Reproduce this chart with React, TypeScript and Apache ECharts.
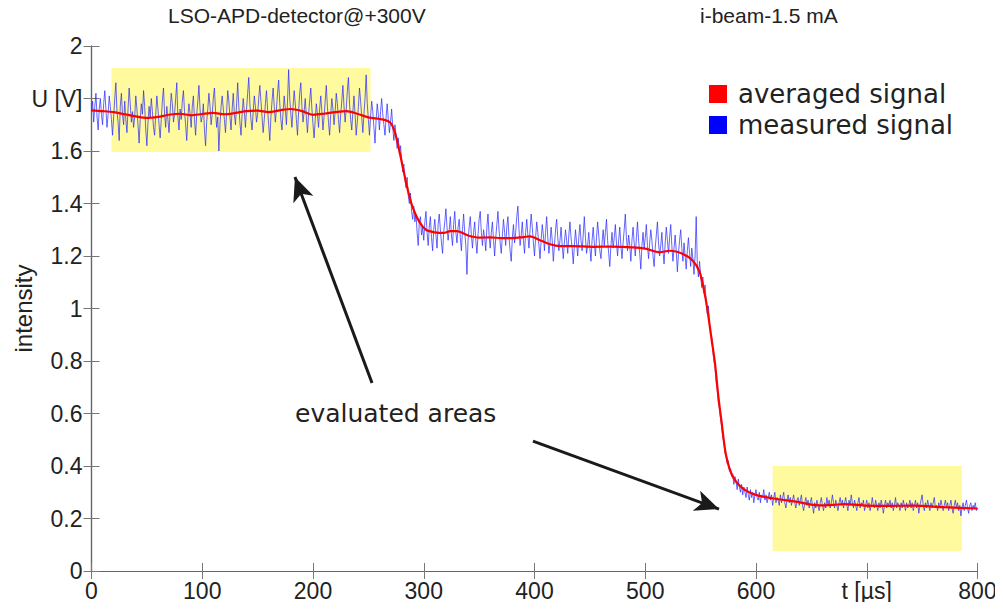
import React, { useEffect, useRef } from "react";
import * as echarts from "echarts";

const FONT = "'Liberation Sans', Arial, Helvetica, sans-serif";
const WIDE_FONT = "'DejaVu Sans', 'Liberation Sans', sans-serif";

const xTicks = [0, 100, 200, 300, 400, 500, 600, 700, 800];
const yTicks = [0, 0.2, 0.4, 0.6, 0.8, 1, 1.2, 1.4, 1.6, 1.8, 2];

// averaged signal: [t µs, U V]
const averagedT = [0, 10, 20, 30, 40, 50, 60, 70, 80, 90, 100, 110, 120, 130, 140, 150, 160, 170, 180, 190, 200, 210, 220, 230, 240, 250, 260, 265, 270, 274, 278, 283, 286, 290, 296, 302, 310, 318, 324, 330, 340, 350, 360, 370, 380, 390, 396, 405, 414, 423, 435, 453, 470, 489, 500, 513, 522, 534, 543, 549, 553, 556, 560, 563, 566, 569, 573, 579, 588, 600, 615, 636, 657, 670, 680, 700, 720, 742, 770, 800];
const averagedU = [1.755, 1.752, 1.748, 1.74, 1.732, 1.726, 1.73, 1.738, 1.742, 1.736, 1.741, 1.745, 1.74, 1.745, 1.752, 1.754, 1.748, 1.755, 1.76, 1.752, 1.738, 1.742, 1.748, 1.752, 1.742, 1.728, 1.722, 1.718, 1.707, 1.67, 1.6, 1.5, 1.445, 1.385, 1.33, 1.3, 1.29, 1.288, 1.295, 1.295, 1.278, 1.27, 1.271, 1.268, 1.268, 1.272, 1.275, 1.26, 1.245, 1.238, 1.238, 1.235, 1.236, 1.233, 1.228, 1.214, 1.22, 1.208, 1.182, 1.14, 1.07, 1.0, 0.88, 0.79, 0.665, 0.565, 0.44, 0.36, 0.315, 0.29, 0.277, 0.264, 0.25, 0.252, 0.255, 0.249, 0.248, 0.249, 0.243, 0.238];

// measured signal, one sample every 1 µs from 0 to 800 µs
const measuredStep = 1;
const measuredU = [
  1.75, 1.79, 1.71, 1.77, 1.82, 1.73, 1.68, 1.76, 1.80, 1.74,
  1.70, 1.78, 1.83, 1.76, 1.69, 1.74, 1.81, 1.77, 1.72, 1.66,
  1.73, 1.80, 1.86, 1.75, 1.71, 1.64, 1.77, 1.82, 1.74, 1.70,
  1.79, 1.72, 1.67, 1.76, 1.84, 1.78, 1.71, 1.75, 1.69, 1.73,
  1.81, 1.76, 1.70, 1.63, 1.72, 1.78, 1.74, 1.83, 1.77, 1.68,
  1.62, 1.71, 1.77, 1.73, 1.80, 1.75, 1.69, 1.66, 1.74, 1.81,
  1.76, 1.70, 1.65, 1.72, 1.79, 1.84, 1.74, 1.69, 1.77, 1.72,
  1.67, 1.75, 1.82, 1.78, 1.71, 1.74, 1.80, 1.86, 1.73, 1.68,
  1.76, 1.72, 1.79, 1.83, 1.75, 1.70, 1.64, 1.73, 1.78, 1.74,
  1.69, 1.77, 1.81, 1.72, 1.66, 1.74, 1.79, 1.85, 1.76, 1.71,
  1.73, 1.78, 1.68, 1.62, 1.71, 1.76, 1.82, 1.77, 1.70, 1.74,
  1.80, 1.84, 1.75, 1.69, 1.73, 1.60, 1.70, 1.77, 1.81, 1.76,
  1.72, 1.67, 1.75, 1.83, 1.79, 1.73, 1.68, 1.76, 1.82, 1.74,
  1.70, 1.78, 1.86, 1.77, 1.71, 1.66, 1.74, 1.80, 1.75, 1.69,
  1.76, 1.82, 1.88, 1.78, 1.72, 1.68, 1.75, 1.81, 1.77, 1.71,
  1.74, 1.80, 1.85, 1.79, 1.73, 1.67, 1.72, 1.78, 1.83, 1.76,
  1.70, 1.64, 1.73, 1.79, 1.84, 1.77, 1.71, 1.76, 1.82, 1.87,
  1.78, 1.72, 1.68, 1.75, 1.81, 1.76, 1.70, 1.79, 1.91, 1.80,
  1.74, 1.69, 1.77, 1.83, 1.78, 1.72, 1.66, 1.75, 1.82, 1.86,
  1.77, 1.71, 1.75, 1.80, 1.73, 1.67, 1.74, 1.79, 1.84, 1.76,
  1.70, 1.65, 1.72, 1.78, 1.74, 1.69, 1.76, 1.81, 1.75, 1.68,
  1.73, 1.79, 1.85, 1.77, 1.71, 1.66, 1.74, 1.80, 1.76, 1.70,
  1.75, 1.82, 1.78, 1.72, 1.67, 1.74, 1.79, 1.85, 1.77, 1.71,
  1.76, 1.83, 1.88, 1.78, 1.72, 1.68, 1.75, 1.81, 1.74, 1.66,
  1.71, 1.77, 1.84, 1.79, 1.73, 1.67, 1.74, 1.80, 1.89, 1.78,
  1.72, 1.66, 1.73, 1.79, 1.75, 1.69, 1.63, 1.72, 1.78, 1.74,
  1.68, 1.75, 1.80, 1.74, 1.70, 1.66, 1.73, 1.78, 1.72, 1.67,
  1.71, 1.76, 1.69, 1.64, 1.70, 1.66, 1.61, 1.65, 1.59, 1.62,
  1.57, 1.52, 1.55, 1.49, 1.46, 1.50, 1.43, 1.40, 1.44, 1.37,
  1.34, 1.39, 1.33, 1.36, 1.29, 1.24, 1.33, 1.35, 1.28, 1.31,
  1.26, 1.33, 1.37, 1.29, 1.24, 1.31, 1.35, 1.27, 1.22, 1.30,
  1.34, 1.28, 1.23, 1.32, 1.36, 1.30, 1.25, 1.21, 1.29, 1.33,
  1.38, 1.31, 1.26, 1.30, 1.35, 1.28, 1.24, 1.32, 1.37, 1.29,
  1.25, 1.31, 1.34, 1.27, 1.22, 1.30, 1.36, 1.29, 1.24, 1.13,
  1.26, 1.31, 1.35, 1.28, 1.23, 1.29, 1.33, 1.26, 1.21, 1.28,
  1.34, 1.37, 1.29, 1.24, 1.30, 1.27, 1.22, 1.31, 1.36, 1.28,
  1.23, 1.29, 1.33, 1.26, 1.20, 1.27, 1.32, 1.37, 1.30, 1.25,
  1.21, 1.28, 1.34, 1.29, 1.24, 1.31, 1.35, 1.27, 1.22, 1.18,
  1.27, 1.32, 1.25, 1.29, 1.35, 1.39, 1.30, 1.24, 1.28, 1.33,
  1.26, 1.21, 1.29, 1.34, 1.28, 1.23, 1.30, 1.36, 1.31, 1.25,
  1.20, 1.27, 1.33, 1.29, 1.24, 1.19, 1.26, 1.32, 1.28, 1.22,
  1.29, 1.35, 1.27, 1.21, 1.25, 1.31, 1.26, 1.18, 1.24, 1.30,
  1.34, 1.27, 1.22, 1.26, 1.31, 1.24, 1.19, 1.25, 1.30, 1.26,
  1.21, 1.28, 1.33, 1.27, 1.23, 1.17, 1.24, 1.30, 1.25, 1.20,
  1.27, 1.32, 1.26, 1.22, 1.28, 1.35, 1.27, 1.21, 1.24, 1.29,
  1.23, 1.18, 1.26, 1.31, 1.25, 1.20, 1.27, 1.33, 1.28, 1.22,
  1.19, 1.25, 1.30, 1.24, 1.29, 1.34, 1.26, 1.21, 1.16, 1.24,
  1.29, 1.23, 1.27, 1.32, 1.25, 1.20, 1.26, 1.31, 1.24, 1.19,
  1.25, 1.30, 1.36, 1.27, 1.22, 1.28, 1.24, 1.18, 1.26, 1.31,
  1.25, 1.20, 1.27, 1.33, 1.26, 1.21, 1.15, 1.24, 1.29, 1.23,
  1.27, 1.32, 1.24, 1.19, 1.25, 1.30, 1.26, 1.20, 1.16, 1.23,
  1.28, 1.33, 1.25, 1.20, 1.24, 1.29, 1.22, 1.17, 1.25, 1.31,
  1.26, 1.21, 1.27, 1.32, 1.24, 1.18, 1.23, 1.28, 1.22, 1.14,
  1.21, 1.26, 1.30, 1.23, 1.18, 1.25, 1.20, 1.15, 1.22, 1.27,
  1.21, 1.16, 1.23, 1.19, 1.13, 1.20, 1.35, 1.17, 1.12, 1.18,
  1.13, 1.08, 1.12, 1.06, 1.09, 1.03, 0.98, 1.01, 0.94, 0.90,
  0.89, 0.84, 0.80, 0.78, 0.72, 0.69, 0.64, 0.62, 0.58, 0.55,
  0.51, 0.49, 0.45, 0.44, 0.41, 0.42, 0.38, 0.39, 0.36, 0.37,
  0.33, 0.36, 0.34, 0.31, 0.35, 0.32, 0.30, 0.33, 0.29, 0.32,
  0.30, 0.28, 0.32, 0.29, 0.27, 0.31, 0.28, 0.30, 0.26, 0.29,
  0.31, 0.28, 0.27, 0.30, 0.26, 0.29, 0.28, 0.31, 0.27, 0.29,
  0.26, 0.28, 0.30, 0.27, 0.29, 0.25, 0.28, 0.30, 0.26, 0.28,
  0.27, 0.25, 0.29, 0.26, 0.28, 0.30, 0.26, 0.24, 0.27, 0.29,
  0.26, 0.28, 0.25, 0.27, 0.29, 0.26, 0.24, 0.27, 0.28, 0.25,
  0.27, 0.29, 0.25, 0.23, 0.26, 0.28, 0.25, 0.27, 0.24, 0.26,
  0.28, 0.25, 0.22, 0.26, 0.24, 0.27, 0.25, 0.23, 0.26, 0.28,
  0.25, 0.23, 0.26, 0.24, 0.28, 0.25, 0.27, 0.24, 0.26, 0.29,
  0.26, 0.24, 0.27, 0.25, 0.23, 0.26, 0.28, 0.25, 0.27, 0.24,
  0.26, 0.28, 0.25, 0.23, 0.27, 0.25, 0.29, 0.26, 0.24, 0.27,
  0.25, 0.23, 0.26, 0.28, 0.24, 0.26, 0.25, 0.27, 0.23, 0.25,
  0.27, 0.24, 0.26, 0.23, 0.25, 0.28, 0.25, 0.24, 0.27, 0.25,
  0.23, 0.26, 0.24, 0.27, 0.25, 0.22, 0.25, 0.27, 0.24, 0.26,
  0.25, 0.27, 0.24, 0.26, 0.23, 0.25, 0.28, 0.24, 0.26, 0.25,
  0.23, 0.26, 0.24, 0.27, 0.25, 0.23, 0.26, 0.24, 0.25, 0.27,
  0.24, 0.26, 0.23, 0.25, 0.27, 0.24, 0.26, 0.22, 0.25, 0.27,
  0.29, 0.25, 0.23, 0.26, 0.24, 0.27, 0.25, 0.23, 0.26, 0.24,
  0.26, 0.28, 0.24, 0.25, 0.23, 0.26, 0.24, 0.27, 0.25, 0.23,
  0.25, 0.27, 0.24, 0.26, 0.23, 0.25, 0.27, 0.24, 0.22, 0.25,
  0.27, 0.24, 0.26, 0.23, 0.25, 0.21, 0.24, 0.26, 0.23, 0.25,
  0.27, 0.24, 0.22, 0.25, 0.26, 0.23, 0.25, 0.24, 0.26, 0.23,
  0.24,
];

// evaluated areas: [tStart, tEnd, uLow, uHigh]
const areas = [
  [18, 252, 1.596, 1.916],
  [615, 786, 0.076, 0.4],
];

// arrows: [tFrom, uFrom, tTo, uTo]
const arrows = [
  [253.3, 0.716, 183.7, 1.501],
  [398.6, 0.495, 566.6, 0.236],
];

const seriesNames = ["averaged signal", "measured signal"];
const titleLeft = "LSO-APD-detector@+300V";
const titleRight = "i-beam-1.5 mA";
const annotation = "evaluated areas";

export default function App() {
  const ref = useRef<HTMLDivElement>(null);
  useEffect(() => {
    if (!ref.current) return;
    const chart = echarts.init(ref.current, null, { renderer: "svg" });
    const axisLine = { show: true, lineStyle: { color: "#666", width: 1.2 } };
    const tickIn = { show: true, inside: true, length: 8, lineStyle: { color: "#777", width: 1 } };
    const option = {
      animation: false,
      backgroundColor: "#fff",
      textStyle: { fontFamily: FONT },
      grid: { left: 91.5, right: 25.5, top: 46, bottom: 39, containLabel: false, outerBoundsMode: "none" },
      legend: {
        data: seriesNames,
        orient: "vertical",
        left: 704,
        top: 76,
        icon: "rect",
        itemWidth: 18,
        itemHeight: 18,
        itemGap: 5,
        textStyle: { fontFamily: WIDE_FONT, fontSize: 26, color: "#222", padding: [0, 0, 0, 6] },
      },
      xAxis: [
        {
          type: "value",
          min: 0,
          max: 800,
          interval: 100,
          axisLine,
          axisTick: tickIn,
          splitLine: { show: false },
          axisLabel: {
            margin: 8,
            fontSize: 23,
            color: "#222",
            fontFamily: FONT,
            formatter: (v: number) => (v === 700 ? "t [µs]" : String(v)),
          },
        },
        {
          type: "value",
          position: "top",
          min: 0,
          max: 800,
          interval: 100,
          axisLine,
          axisTick: tickIn,
          axisLabel: { show: false },
          splitLine: { show: false },
        },
      ],
      yAxis: [
        {
          type: "value",
          min: 0,
          max: 2,
          interval: 0.2,
          axisLine,
          axisTick: tickIn,
          splitLine: { show: false },
          name: "intensity",
          nameLocation: "middle",
          nameGap: 56,
          nameMoveOverlap: false,
          nameRotate: 90,
          nameTextStyle: { fontSize: 24, color: "#222", fontFamily: FONT },
          axisLabel: {
            margin: 9,
            fontSize: 23,
            color: "#222",
            fontFamily: FONT,
            formatter: (v: number) => {
              const r = Math.round(v * 10) / 10;
              return r === 1.8 ? "U [V]" : String(r);
            },
          },
        },
        {
          type: "value",
          position: "right",
          min: 0,
          max: 2,
          interval: 0.2,
          axisLine,
          axisTick: tickIn,
          axisLabel: { show: false },
          splitLine: { show: false },
        },
      ],
      graphic: [
        {
          type: "text",
          left: 168,
          top: 5,
          style: { text: titleLeft, fontFamily: FONT, fontSize: 21, fill: "#222" },
        },
        {
          type: "text",
          left: 700,
          top: 5,
          style: { text: titleRight, fontFamily: FONT, fontSize: 21, fill: "#222" },
        },
        {
          type: "text",
          left: 295,
          top: 401,
          style: { text: annotation, fontFamily: WIDE_FONT, fontSize: 25, fill: "#222" },
        },
      ],
      series: [
        {
          name: "areas",
          type: "line",
          data: [],
          z: 1,
          silent: true,
          markArea: {
            silent: true,
            itemStyle: { color: "#fffa9e", opacity: 1 },
            data: areas.map((a) => [
              { coord: [a[0], a[3]] },
              { coord: [a[1], a[2]] },
            ]),
          },
        },
        {
          name: seriesNames[1],
          type: "line",
          z: 2,
          showSymbol: false,
          symbol: "none",
          color: "#0000ff",
          lineStyle: { color: "#2a2aff", width: 0.9, opacity: 0.8 },
          data: measuredU.map((u, i) => [i * measuredStep, u]),
        },
        {
          name: seriesNames[0],
          type: "line",
          z: 3,
          showSymbol: false,
          symbol: "none",
          smooth: 0.3,
          color: "#ff0000",
          lineStyle: { color: "#ff0000", width: 2.2 },
          data: averagedT.map((t, i) => [t, averagedU[i]]),
        },
        {
          name: "arrows",
          type: "line",
          data: [],
          z: 4,
          silent: true,
          markLine: {
            silent: true,
            symbol: ["none", "arrow"],
            symbolSize: [16, 24],
            label: { show: false },
            lineStyle: { color: "#1a1a1a", width: 3, type: "solid" },
            itemStyle: { color: "#1a1a1a" },
            data: arrows.map((a) => [
              { coord: [a[0], a[1]] },
              { coord: [a[2], a[3]] },
            ]),
          },
        },
      ],
    };
    chart.setOption(option as any);
    return () => chart.dispose();
  }, []);
  return <div ref={ref} style={{ width: 1003, height: 610, margin: -8 }} />;
}
